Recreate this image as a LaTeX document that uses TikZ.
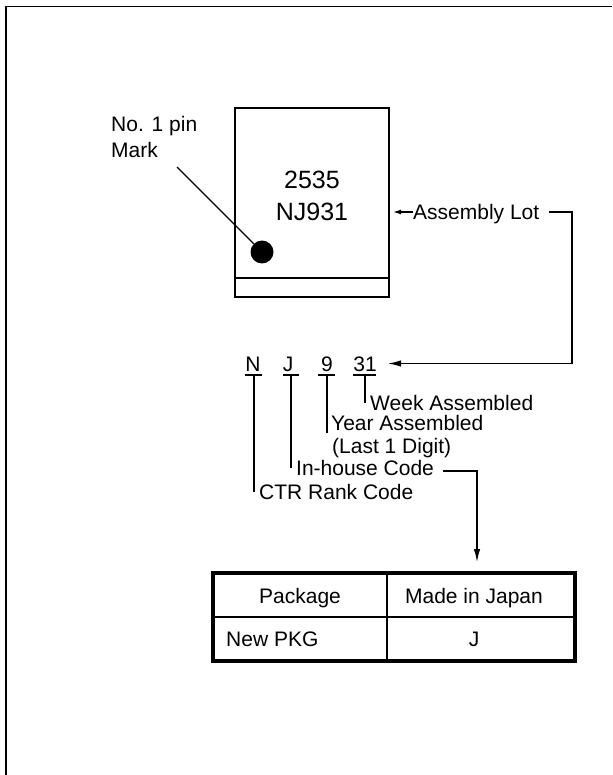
\documentclass[tikz,border=0pt]{standalone}
\usepackage{fontspec}
\setmainfont{Liberation Sans}
\usetikzlibrary{arrows.meta,positioning}

\tikzset{
        lbl/.style={anchor=base west, inner sep=0pt, text height=15pt, text depth=0pt, font=\fontsize{21}{21}\selectfont},
        code/.style={anchor=base, inner sep=0pt, text height=15pt, text depth=0pt, font=\fontsize{21}{21}\selectfont},
        chiptext/.style={anchor=base, inner sep=0pt, font=\fontsize{25}{25}\selectfont},
        thinline/.style={line width=1.3pt},
        arr/.style={line width=1.3pt, -{Latex[length=13pt, width=6.5pt]}},
        bar/.style={line width=1.4pt},
}

\begin{document}
\begin{tikzpicture}[x=1pt, y=-1pt]
        \useasboundingbox (0, 0) rectangle (612, 775);
        \draw[line width=1.8pt] (6, 775) -- (6, 6.5) -- (612, 6.5);

        % chip
        \node[draw, line width=2.6pt, minimum width=154pt, minimum height=189pt, inner sep=0pt] (chip) at (312, 202.5) {};
        \coordinate (divl) at (235, 278);
        \draw[line width=2.4pt] (divl) -- (divl -| chip.east);
        \node[chiptext] (lineone) at (312, 189) {2535};
        \node[chiptext] (linetwo) at (312, 221) {NJ931};
        \node[circle, fill=black, minimum size=23pt, inner sep=0pt] (dot) at (262, 252) {};
        \node[lbl] (pin) at (111, 132) {No. 1 pin};
        \node[lbl] (pinb) at (111, 158) {Mark};
        \coordinate (pinstart) at (177, 167);
        \draw[thinline] (pinstart) -- (dot);

        % assembly lot
        \node[lbl] (lot) at (413, 219.5) {Assembly Lot};
        \coordinate (lotend) at (549, 212);
        \coordinate (lotcorner) at (572, 212);
        \draw[line width=1.3pt, -{Latex[length=8pt, width=5pt]}] (lot.west) -- +(-20, 0);

        % code letters
        \node[code] (cn) at (253, 371) {N};
        \node[code] (cj) at (288, 371) {J};
        \node[code] (cy) at (327, 371) {9};
        \node[code] (cw) at (365, 371) {31};
        \coordinate (codetip) at (388, 363.5);
        \draw[arr] (lotend) -- (lotcorner) |- (codetip);

        \coordinate (bn) at (254, 375);
        \coordinate (bj) at (291, 375);
        \coordinate (by) at (327, 375);
        \coordinate (bw) at (365, 375);
        \draw[bar] (245, 375) -- (262, 375);
        \draw[bar] (283, 375) -- (299, 375);
        \draw[bar] (318, 375) -- (335, 375);
        \draw[bar] (353, 375) -- (376, 375);

        % labels below the code
        \node[lbl] (week) at (370, 410.5) {Week Assembled};
        \node[lbl] (year) at (331, 430.5) {Year Assembled};
        \node[lbl] (last) at (332, 453) {(Last 1 Digit)};
        \node[lbl] (house) at (296, 475.5) {In-house Code};
        \node[lbl] (rank) at (259, 499.5) {CTR Rank Code};
        \coordinate (yearend) at (327, 433);
        \draw[thinline] (bw) -- (bw |- week.west);
        \draw[thinline] (by) -- (yearend);
        \draw[thinline] (bj) -- (bj |- house.west);
        \draw[thinline] (bn) -- (bn |- rank.west);

        % table
        \node[draw, line width=3.4pt, minimum width=362pt, minimum height=88pt, inner sep=0pt] (tbl) at (394, 617) {};
        \draw[line width=2.8pt] (tbl.west) -- (tbl.east);
        \coordinate (colx) at (387, 617);
        \draw[thinline] (colx |- tbl.north) -- (colx |- tbl.south);
        \node[code] (pkg) at (300, 603.5) {Package};
        \node[code] (made) at (474, 603.5) {Made in Japan};
        \node[lbl] (newpkg) at (226, 646.5) {New PKG};
        \node[code] (jcell) at (474, 646.5) {J};

        % in-house connector
        \coordinate (housestart) at (443, 471);
        \coordinate (housecorner) at (477, 471);
        \coordinate (housetip) at (477, 562);
        \draw[arr] (housestart) -- (housecorner) -- (housetip);
\end{tikzpicture}
\end{document}
